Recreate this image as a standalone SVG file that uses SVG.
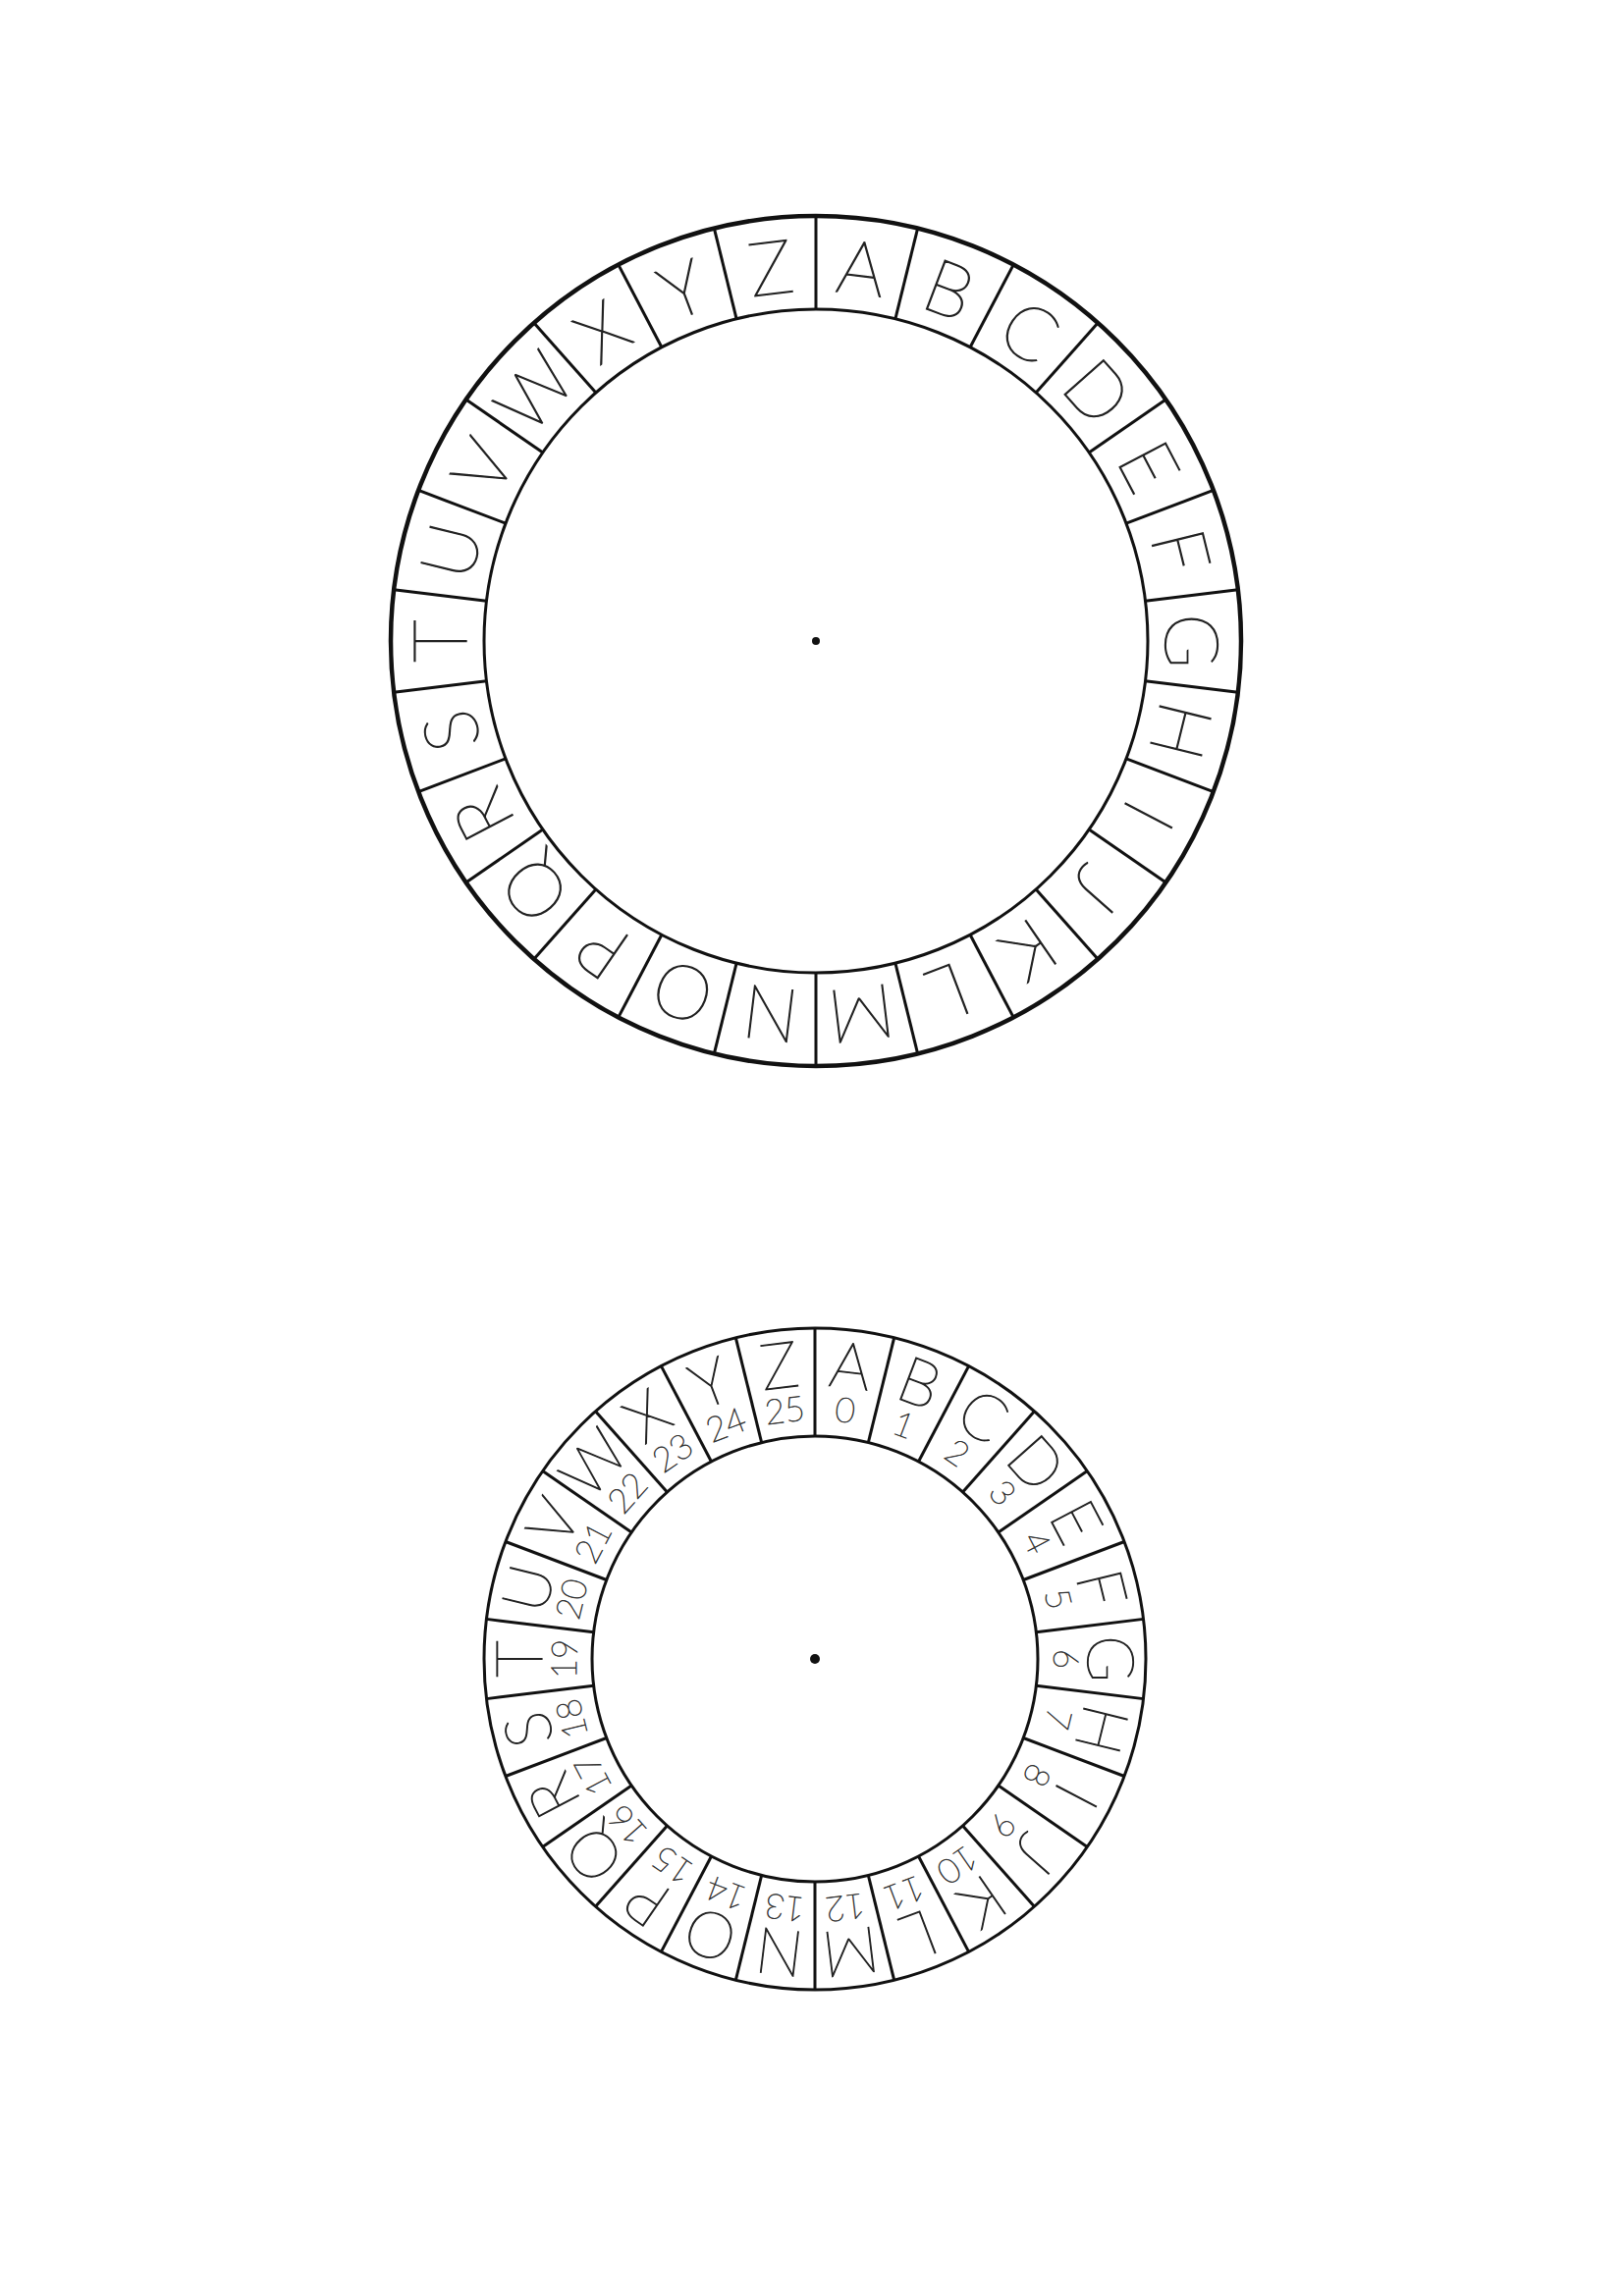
<svg xmlns="http://www.w3.org/2000/svg" width="1654" height="2339" viewBox="0 0 1654 2339">
<style>
.ring{fill:none;stroke:#111;}
.div{stroke:#111;stroke-width:3;}
.L1{font-family:Lato,"Liberation Sans",sans-serif;font-weight:200;font-size:76px;fill:#222;stroke:#222;stroke-width:1.3px;text-anchor:middle;}
.L2{font-family:Lato,"Liberation Sans",sans-serif;font-weight:200;font-size:65px;fill:#222;stroke:#222;stroke-width:1.2px;text-anchor:middle;}
.N2{font-family:Lato,"Liberation Sans",sans-serif;font-weight:200;font-size:35px;fill:#333;stroke:#333;stroke-width:0.8px;text-anchor:middle;}
</style>
<defs>
<line id="d1" class="div" x1="0" y1="-338" x2="0" y2="-433"/>
<line id="d2" class="div" x1="0" y1="-227" x2="0" y2="-337"/>
</defs>
<rect width="1654" height="2339" fill="#fff"/>
<g id="wheel-outer" transform="translate(831,653)">
<circle class="ring" r="433" stroke-width="4.5"/>
<circle class="ring" r="338" stroke-width="3"/>
<circle r="4" fill="#111"/>
<g id="dividers-outer">
<use href="#d1" transform="rotate(0)"/><use href="#d1" transform="rotate(13.846)"/><use href="#d1" transform="rotate(27.692)"/><use href="#d1" transform="rotate(41.538)"/><use href="#d1" transform="rotate(55.385)"/><use href="#d1" transform="rotate(69.231)"/><use href="#d1" transform="rotate(83.077)"/><use href="#d1" transform="rotate(96.923)"/><use href="#d1" transform="rotate(110.769)"/><use href="#d1" transform="rotate(124.615)"/><use href="#d1" transform="rotate(138.462)"/><use href="#d1" transform="rotate(152.308)"/><use href="#d1" transform="rotate(166.154)"/><use href="#d1" transform="rotate(180)"/><use href="#d1" transform="rotate(193.846)"/><use href="#d1" transform="rotate(207.692)"/><use href="#d1" transform="rotate(221.538)"/><use href="#d1" transform="rotate(235.385)"/><use href="#d1" transform="rotate(249.231)"/><use href="#d1" transform="rotate(263.077)"/><use href="#d1" transform="rotate(276.923)"/><use href="#d1" transform="rotate(290.769)"/><use href="#d1" transform="rotate(304.615)"/><use href="#d1" transform="rotate(318.462)"/><use href="#d1" transform="rotate(332.308)"/><use href="#d1" transform="rotate(346.154)"/>
</g>
<g id="letters-outer">
<text class="L1" transform="rotate(6.923)" y="-356">A</text>
<text class="L1" transform="rotate(20.769)" y="-356">B</text>
<text class="L1" transform="rotate(34.615)" y="-356">C</text>
<text class="L1" transform="rotate(48.462)" y="-356">D</text>
<text class="L1" transform="rotate(62.308)" y="-356">E</text>
<text class="L1" transform="rotate(76.154)" y="-356">F</text>
<text class="L1" transform="rotate(90)" y="-356">G</text>
<text class="L1" transform="rotate(103.846)" y="-356">H</text>
<text class="L1" transform="rotate(117.692)" y="-356">I</text>
<text class="L1" transform="rotate(131.538)" y="-356">J</text>
<text class="L1" transform="rotate(145.385)" y="-356">K</text>
<text class="L1" transform="rotate(159.231)" y="-356">L</text>
<text class="L1" transform="rotate(173.077)" y="-356">M</text>
<text class="L1" transform="rotate(186.923)" y="-356">N</text>
<text class="L1" transform="rotate(200.769)" y="-356">O</text>
<text class="L1" transform="rotate(214.615)" y="-356">P</text>
<text class="L1" transform="rotate(228.462)" y="-356">Q</text>
<text class="L1" transform="rotate(242.308)" y="-356">R</text>
<text class="L1" transform="rotate(256.154)" y="-356">S</text>
<text class="L1" transform="rotate(270)" y="-356">T</text>
<text class="L1" transform="rotate(283.846)" y="-356">U</text>
<text class="L1" transform="rotate(297.692)" y="-356">V</text>
<text class="L1" transform="rotate(311.538)" y="-356">W</text>
<text class="L1" transform="rotate(325.385)" y="-356">X</text>
<text class="L1" transform="rotate(339.231)" y="-356">Y</text>
<text class="L1" transform="rotate(353.077)" y="-356">Z</text>
</g>
</g>
<g id="wheel-inner" transform="translate(830,1690)">
<circle class="ring" r="337" stroke-width="3"/>
<circle class="ring" r="227" stroke-width="3"/>
<circle r="5" fill="#111"/>
<g id="dividers-inner">
<use href="#d2" transform="rotate(0)"/><use href="#d2" transform="rotate(13.846)"/><use href="#d2" transform="rotate(27.692)"/><use href="#d2" transform="rotate(41.538)"/><use href="#d2" transform="rotate(55.385)"/><use href="#d2" transform="rotate(69.231)"/><use href="#d2" transform="rotate(83.077)"/><use href="#d2" transform="rotate(96.923)"/><use href="#d2" transform="rotate(110.769)"/><use href="#d2" transform="rotate(124.615)"/><use href="#d2" transform="rotate(138.462)"/><use href="#d2" transform="rotate(152.308)"/><use href="#d2" transform="rotate(166.154)"/><use href="#d2" transform="rotate(180)"/><use href="#d2" transform="rotate(193.846)"/><use href="#d2" transform="rotate(207.692)"/><use href="#d2" transform="rotate(221.538)"/><use href="#d2" transform="rotate(235.385)"/><use href="#d2" transform="rotate(249.231)"/><use href="#d2" transform="rotate(263.077)"/><use href="#d2" transform="rotate(276.923)"/><use href="#d2" transform="rotate(290.769)"/><use href="#d2" transform="rotate(304.615)"/><use href="#d2" transform="rotate(318.462)"/><use href="#d2" transform="rotate(332.308)"/><use href="#d2" transform="rotate(346.154)"/>
</g>
<g id="letters-inner">
<g transform="rotate(6.923)"><text class="L2" y="-278">A</text><text class="N2" y="-243">0</text></g>
<g transform="rotate(20.769)"><text class="L2" y="-278">B</text><text class="N2" y="-243">1</text></g>
<g transform="rotate(34.615)"><text class="L2" y="-278">C</text><text class="N2" y="-243">2</text></g>
<g transform="rotate(48.462)"><text class="L2" y="-278">D</text><text class="N2" y="-243">3</text></g>
<g transform="rotate(62.308)"><text class="L2" y="-278">E</text><text class="N2" y="-243">4</text></g>
<g transform="rotate(76.154)"><text class="L2" y="-278">F</text><text class="N2" y="-243">5</text></g>
<g transform="rotate(90)"><text class="L2" y="-278">G</text><text class="N2" y="-243">6</text></g>
<g transform="rotate(103.846)"><text class="L2" y="-278">H</text><text class="N2" y="-243">7</text></g>
<g transform="rotate(117.692)"><text class="L2" y="-278">I</text><text class="N2" y="-243">8</text></g>
<g transform="rotate(131.538)"><text class="L2" y="-278">J</text><text class="N2" y="-243">9</text></g>
<g transform="rotate(145.385)"><text class="L2" y="-278">K</text><text class="N2" y="-243">10</text></g>
<g transform="rotate(159.231)"><text class="L2" y="-278">L</text><text class="N2" y="-243">11</text></g>
<g transform="rotate(173.077)"><text class="L2" y="-278">M</text><text class="N2" y="-243">12</text></g>
<g transform="rotate(186.923)"><text class="L2" y="-278">N</text><text class="N2" y="-243">13</text></g>
<g transform="rotate(200.769)"><text class="L2" y="-278">O</text><text class="N2" y="-243">14</text></g>
<g transform="rotate(214.615)"><text class="L2" y="-278">P</text><text class="N2" y="-243">15</text></g>
<g transform="rotate(228.462)"><text class="L2" y="-278">Q</text><text class="N2" y="-243">16</text></g>
<g transform="rotate(242.308)"><text class="L2" y="-278">R</text><text class="N2" y="-243">17</text></g>
<g transform="rotate(256.154)"><text class="L2" y="-278">S</text><text class="N2" y="-243">18</text></g>
<g transform="rotate(270)"><text class="L2" y="-278">T</text><text class="N2" y="-243">19</text></g>
<g transform="rotate(283.846)"><text class="L2" y="-278">U</text><text class="N2" y="-243">20</text></g>
<g transform="rotate(297.692)"><text class="L2" y="-278">V</text><text class="N2" y="-243">21</text></g>
<g transform="rotate(311.538)"><text class="L2" y="-278">W</text><text class="N2" y="-243">22</text></g>
<g transform="rotate(325.385)"><text class="L2" y="-278">X</text><text class="N2" y="-243">23</text></g>
<g transform="rotate(339.231)"><text class="L2" y="-278">Y</text><text class="N2" y="-243">24</text></g>
<g transform="rotate(353.077)"><text class="L2" y="-278">Z</text><text class="N2" y="-243">25</text></g>
</g>
</g>
</svg>
